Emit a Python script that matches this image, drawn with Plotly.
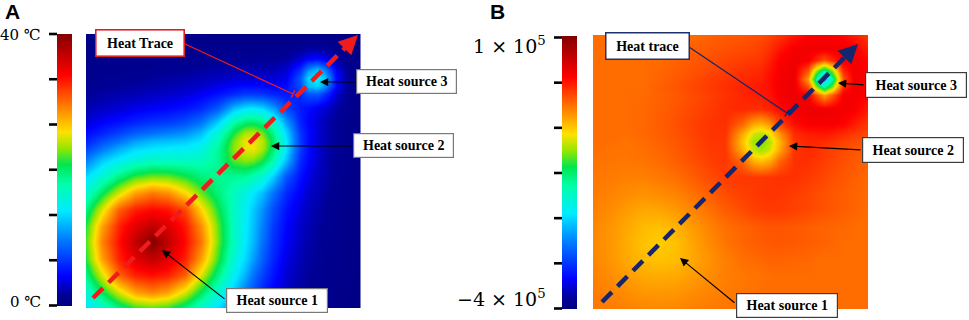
import plotly.graph_objects as go

W, H = 969, 320

# grid nodes (same for x and y, 0..100 across each square map)
grid = [0, 6, 12, 18, 24, 30, 36, 42, 48, 54, 58, 61, 64, 68, 73, 78, 81, 84, 87, 91, 95, 100]

# Panel A: temperature (deg C), rows from bottom (y=0) to top (y=100)
temp_A = [
    [13.4,16.2,19.2,21.3,22.0,21.3,19.2,16.2,13.4,9.8,7.3,5.8,4.7,3.3,2.3,1.6,1.3,1.0,0.9,0.6,0.5,0.4],
    [16.2,20.5,24.7,28.0,29.2,28.0,24.7,20.5,16.2,12.7,9.6,7.7,5.9,4.3,2.8,1.9,1.5,1.2,1.0,0.8,0.6,0.45],
    [19.2,24.7,30.5,32.8,33.5,32.8,30.5,24.7,19.2,14.5,11.8,9.3,7.2,5.1,3.2,2.2,1.7,1.4,1.1,0.8,0.6,0.5],
    [21.3,28.0,32.8,35.4,36.9,35.4,32.8,28.0,21.5,15.9,13.3,11.1,8.5,5.9,3.7,2.4,1.9,1.5,1.1,0.9,0.7,0.5],
    [22.0,29.2,33.5,36.9,40.0,37.0,33.7,29.6,22.5,16.8,14.0,12.1,9.3,6.5,4.2,2.8,2.1,1.7,1.3,1.0,0.7,0.5],
    [21.3,28.0,32.8,35.4,37.0,35.7,33.2,28.7,22.3,16.8,14.3,12.4,9.9,6.9,4.5,3.0,2.4,1.9,1.5,1.1,0.8,0.5],
    [19.2,24.7,30.5,32.8,33.7,33.2,31.3,26.0,21.0,16.8,14.5,12.8,10.6,7.7,5.1,3.4,2.7,2.1,1.6,1.1,0.8,0.55],
    [16.2,20.5,24.7,28.1,29.6,28.7,26.0,22.5,19.4,17.1,15.3,13.9,12.3,9.3,6.1,4.1,3.0,2.5,1.9,1.2,1.0,0.6],
    [13.4,16.2,19.2,21.5,22.5,22.3,21.0,19.4,18.7,18.7,18.6,17.6,16.2,13.0,8.2,5.1,3.8,2.7,2.2,1.4,1.0,0.6],
    [9.8,12.7,14.5,15.9,16.8,16.8,16.8,17.1,18.7,22.3,23.1,22.8,21.2,18.0,12.3,6.2,4.5,3.2,2.2,1.5,1.0,0.6],
    [7.3,9.6,11.8,13.3,14.0,14.3,14.5,15.3,18.6,23.1,25.1,25.3,23.7,19.8,13.7,6.9,4.8,3.3,2.4,1.6,1.0,0.6],
    [5.8,7.7,9.3,11.1,12.1,12.4,12.8,13.9,17.6,22.8,25.3,25.5,24.1,20.1,14.0,6.9,4.7,3.2,2.4,1.5,1.0,0.55],
    [4.7,5.9,7.2,8.5,9.3,9.9,10.6,12.3,16.2,21.2,23.7,24.1,22.7,19.1,13.3,6.7,4.7,3.4,2.4,1.6,1.0,0.55],
    [3.3,4.3,5.1,5.9,6.5,6.9,7.7,9.3,13.0,18.0,19.8,20.1,19.1,16.5,11.1,5.9,4.4,3.3,2.4,1.6,1.0,0.55],
    [2.3,2.8,3.2,3.8,4.2,4.5,5.1,6.1,8.2,12.3,13.7,14.0,13.3,11.1,7.4,5.4,4.8,3.9,3.2,1.9,1.2,0.55],
    [1.6,1.9,2.2,2.4,2.8,3.0,3.4,4.1,5.1,6.2,6.9,6.9,6.7,5.9,5.4,6.2,7.8,8.2,6.4,3.2,1.5,0.6],
    [1.3,1.5,1.7,1.9,2.1,2.4,2.7,3.0,3.8,4.5,4.8,4.7,4.7,4.4,4.8,7.8,12.0,13.3,10.5,4.5,1.8,0.6],
    [1.0,1.2,1.4,1.5,1.7,1.9,2.1,2.5,2.7,3.2,3.3,3.2,3.4,3.3,3.9,8.2,13.3,14.6,12.6,4.9,1.7,0.55],
    [0.9,1.0,1.05,1.1,1.3,1.5,1.6,1.9,2.2,2.2,2.4,2.4,2.4,2.4,3.2,6.4,10.5,12.6,9.9,4.0,1.5,0.5],
    [0.6,0.8,0.8,0.9,0.95,1.05,1.1,1.2,1.4,1.5,1.6,1.5,1.6,1.6,1.9,3.2,4.5,4.9,4.0,2.1,0.95,0.4],
    [0.5,0.6,0.6,0.7,0.7,0.75,0.8,0.95,1.0,1.0,1.0,0.95,0.95,1.0,1.2,1.5,1.8,1.7,1.5,0.95,0.55,0.3],
    [0.4,0.45,0.5,0.5,0.5,0.5,0.55,0.6,0.6,0.6,0.6,0.55,0.55,0.5,0.55,0.6,0.6,0.55,0.5,0.4,0.3,0.15],
]

# Panel B: field in units of 1e5, rows from bottom to top
field_B = [
    [-0.30,-0.32,-0.34,-0.37,-0.38,-0.37,-0.34,-0.32,-0.30,-0.28,-0.26,-0.25,-0.25,-0.25,-0.25,-0.25,-0.25,-0.25,-0.25,-0.25,-0.25,-0.25],
    [-0.32,-0.36,-0.40,-0.44,-0.45,-0.44,-0.40,-0.36,-0.32,-0.29,-0.28,-0.26,-0.25,-0.25,-0.25,-0.25,-0.25,-0.25,-0.25,-0.25,-0.25,-0.25],
    [-0.34,-0.40,-0.47,-0.53,-0.55,-0.53,-0.47,-0.40,-0.34,-0.30,-0.29,-0.28,-0.26,-0.25,-0.25,-0.25,-0.25,-0.25,-0.25,-0.25,-0.25,-0.25],
    [-0.37,-0.44,-0.53,-0.62,-0.65,-0.62,-0.53,-0.43,-0.34,-0.27,-0.24,-0.23,-0.21,-0.21,-0.22,-0.23,-0.25,-0.25,-0.25,-0.25,-0.25,-0.25],
    [-0.38,-0.45,-0.55,-0.65,-0.70,-0.65,-0.52,-0.39,-0.29,-0.22,-0.19,-0.17,-0.16,-0.15,-0.16,-0.18,-0.19,-0.21,-0.22,-0.25,-0.25,-0.25],
    [-0.37,-0.44,-0.53,-0.62,-0.65,-0.58,-0.47,-0.36,-0.27,-0.21,-0.18,-0.16,-0.14,-0.14,-0.16,-0.18,-0.20,-0.21,-0.22,-0.23,-0.25,-0.26],
    [-0.34,-0.40,-0.47,-0.53,-0.52,-0.46,-0.37,-0.27,-0.18,-0.10,-0.05,-0.03,-0.02,-0.02,-0.05,-0.08,-0.11,-0.13,-0.15,-0.18,-0.21,-0.25],
    [-0.32,-0.36,-0.40,-0.43,-0.40,-0.36,-0.28,-0.19,-0.10,-0.04,-0.02,0.00,0.01,0.00,-0.03,-0.07,-0.10,-0.12,-0.15,-0.18,-0.21,-0.24],
    [-0.30,-0.32,-0.34,-0.34,-0.31,-0.26,-0.18,-0.10,-0.03,0.00,0.00,0.00,0.01,0.03,0.03,-0.01,-0.04,-0.07,-0.11,-0.15,-0.19,-0.23],
    [-0.28,-0.29,-0.30,-0.28,-0.25,-0.19,-0.12,-0.04,0.00,-0.22,-0.55,-0.64,-0.54,-0.20,0.03,0.04,0.00,-0.03,-0.07,-0.11,-0.16,-0.21],
    [-0.26,-0.28,-0.29,-0.26,-0.22,-0.16,-0.09,-0.02,0.00,-0.55,-0.96,-1.07,-0.93,-0.49,0.01,0.06,0.04,0.00,-0.04,-0.09,-0.14,-0.19],
    [-0.25,-0.26,-0.28,-0.25,-0.20,-0.15,-0.08,0.00,0.00,-0.64,-1.07,-1.20,-1.02,-0.57,0.00,0.08,0.07,0.04,0.01,-0.05,-0.10,-0.16],
    [-0.25,-0.25,-0.26,-0.23,-0.19,-0.13,-0.06,0.01,0.02,-0.54,-0.93,-1.02,-0.88,-0.42,0.05,0.12,0.13,0.14,0.12,0.05,-0.02,-0.09],
    [-0.25,-0.25,-0.25,-0.23,-0.18,-0.12,-0.05,0.01,0.04,-0.20,-0.48,-0.56,-0.41,-0.03,0.20,0.30,0.31,0.31,0.30,0.26,0.14,0.00],
    [-0.25,-0.25,-0.25,-0.23,-0.19,-0.14,-0.08,-0.02,0.04,0.06,0.04,0.04,0.09,0.21,0.32,0.35,0.35,0.34,0.34,0.33,0.29,0.13],
    [-0.25,-0.25,-0.25,-0.24,-0.20,-0.16,-0.10,-0.04,0.02,0.08,0.11,0.13,0.17,0.31,0.35,0.30,-0.10,-0.48,-0.17,0.30,0.32,0.24],
    [-0.25,-0.25,-0.25,-0.25,-0.19,-0.14,-0.08,-0.02,0.04,0.09,0.13,0.15,0.19,0.32,0.36,-0.10,-1.05,-1.69,-1.11,0.07,0.33,0.27],
    [-0.25,-0.25,-0.25,-0.25,-0.21,-0.16,-0.10,-0.04,0.01,0.06,0.09,0.11,0.19,0.32,0.35,-0.48,-1.69,-2.64,-1.74,-0.14,0.33,0.29],
    [-0.25,-0.25,-0.25,-0.25,-0.22,-0.18,-0.13,-0.08,-0.03,0.02,0.05,0.08,0.17,0.31,0.35,-0.17,-1.11,-1.74,-1.16,0.06,0.33,0.26],
    [-0.25,-0.25,-0.25,-0.25,-0.25,-0.20,-0.16,-0.12,-0.07,-0.03,-0.01,0.01,0.10,0.28,0.34,0.31,0.07,-0.14,0.06,0.33,0.32,0.22],
    [-0.25,-0.25,-0.25,-0.25,-0.25,-0.23,-0.19,-0.16,-0.12,-0.09,-0.07,-0.03,0.03,0.17,0.31,0.33,0.33,0.33,0.33,0.32,0.29,0.13],
    [-0.25,-0.25,-0.25,-0.25,-0.25,-0.25,-0.24,-0.20,-0.17,-0.15,-0.12,-0.10,-0.05,0.02,0.15,0.25,0.27,0.29,0.26,0.22,0.13,-0.01],
]

rangeA = [0, 40]
rangeB = [-4, 1]
cbA_labels = ["0 ℃", "40 ℃"]
cbB_labels = ["−4 × 10<sup>5</sup>", "1 × 10<sup>5</sup>"]
n_cb_ticks = 7

colorscale = [
    [0.00, "rgb(0,0,128)"],
    [0.04, "rgb(0,0,150)"],
    [0.11, "rgb(0,0,255)"],
    [0.25, "rgb(0,130,255)"],
    [0.35, "rgb(0,235,255)"],
    [0.45, "rgb(0,255,170)"],
    [0.52, "rgb(0,230,80)"],
    [0.58, "rgb(150,230,0)"],
    [0.64, "rgb(255,225,0)"],
    [0.72, "rgb(255,140,0)"],
    [0.85, "rgb(255,0,0)"],
    [1.00, "rgb(130,0,0)"],
]


def fx(p):
    return p / W


def fy(p):
    return 1 - p / H


def cbar(x0, top, bottom):
    return dict(x=fx(x0), xanchor="left", xpad=0, ypad=0,
                y=fy(bottom), yanchor="bottom", len=(bottom - top) / H,
                lenmode="fraction", thickness=15, thicknessmode="pixels",
                outlinewidth=0, ticks="", showticklabels=False)


fig = go.Figure()
fig.add_trace(go.Heatmap(x=grid, y=grid, z=temp_A, zmin=rangeA[0], zmax=rangeA[1],
                         zsmooth="best", colorscale=colorscale, hoverinfo="skip",
                         xaxis="x", yaxis="y", colorbar=cbar(57, 34, 306)))
fig.add_trace(go.Heatmap(x=grid, y=grid, z=field_B, zmin=rangeB[0], zmax=rangeB[1],
                         zsmooth="best", colorscale=colorscale, hoverinfo="skip",
                         xaxis="x2", yaxis="y2", colorbar=cbar(562, 36, 309)))

ax_common = dict(range=[0, 100], visible=False, fixedrange=True, showgrid=False, zeroline=False)
fig.update_layout(
    width=W, height=H, margin=dict(l=0, r=0, t=0, b=0),
    paper_bgcolor="white", plot_bgcolor="white", showlegend=False,
    xaxis=dict(domain=[fx(86), fx(360.5)], anchor="y", **ax_common),
    yaxis=dict(domain=[fy(308), fy(34)], anchor="x", **ax_common),
    xaxis2=dict(domain=[fx(593), fx(868)], anchor="y2", **ax_common),
    yaxis2=dict(domain=[fy(309), fy(35)], anchor="x2", **ax_common),
)

shapes = []
annotations = []

# colorbar tick marks (left side of bars) and end labels
for (x_bar, top, bottom, labels, lab_y, size) in [
    (57, 34, 305.5, cbA_labels, (302, 35), 15),
    (562, 37.5, 308.5, cbB_labels, (298, 45), 19),
]:
    for k in range(n_cb_ticks):
        yk = top + k * (bottom - top) / (n_cb_ticks - 1)
        shapes.append(dict(type="line", xref="paper", yref="paper",
                           x0=fx(x_bar - 8), x1=fx(x_bar), y0=fy(yk), y1=fy(yk),
                           line=dict(color="black", width=2.6)))
    for lab, yy in zip(labels, lab_y):
        annotations.append(dict(text=lab, xref="paper", yref="paper", x=fx(x_bar - 14),
                                y=fy(yy), xanchor="right", yanchor="middle", showarrow=False,
                                font=dict(family="DejaVu Serif", size=size, color="black")))

# panel letters
for letter, xl in [("A", 3), ("B", 488)]:
    annotations.append(dict(text="<b>%s</b>" % letter, xref="paper", yref="paper", x=fx(xl),
                            y=fy(11), xanchor="left", yanchor="middle", showarrow=False,
                            font=dict(family="Liberation Sans", size=21, color="black")))

# dashed heat-trace arrows
red = "rgb(240,28,28)"
navy = "rgb(22,38,110)"
for (x0, y0, x1, y1, hx, hy, col) in [
    (93, 298, 349, 44, 358, 35, red),
    (602, 302, 849, 53, 858, 44, navy),
]:
    shapes.append(dict(type="line", xref="paper", yref="paper", x0=fx(x0), y0=fy(y0),
                       x1=fx(x1), y1=fy(y1), line=dict(color=col, width=4.5, dash="14px,8px")))
    annotations.append(dict(text="", xref="paper", yref="paper", x=fx(hx), y=fy(hy),
                            axref="pixel", ayref="pixel", ax=-13, ay=13, showarrow=True,
                            arrowhead=2, arrowsize=0.85, arrowwidth=4.5, arrowcolor=col,
                            standoff=0))

# connector lines from the "Heat trace" boxes
for (x0, y0, x1, y1, col, bx0, by0, bx1, by1) in [
    (185, 44, 293, 94, red, 291.3, 97.6, 294.7, 90.4),
    (689, 47, 787, 113, navy, 784.8, 116.3, 789.2, 109.7),
]:
    shapes.append(dict(type="line", xref="paper", yref="paper", x0=fx(x0), y0=fy(y0),
                       x1=fx(x1), y1=fy(y1), line=dict(color=col, width=1.3)))
    shapes.append(dict(type="line", xref="paper", yref="paper", x0=fx(bx0), y0=fy(by0),
                       x1=fx(bx1), y1=fy(by1), line=dict(color=col, width=1.5)))

# black pointer arrows (tail -> head)
for (tx, ty, hx, hy) in [
    (356, 82, 320, 82), (353, 146, 271, 146), (226, 300, 162, 250),
    (865, 85, 838, 83), (862, 150, 789, 146), (736, 304, 680, 258),
]:
    annotations.append(dict(text="", xref="paper", yref="paper", x=fx(hx), y=fy(hy),
                            axref="pixel", ayref="pixel", ax=tx - hx, ay=ty - hy,
                            showarrow=True, arrowhead=2, arrowsize=1.5, arrowwidth=1.1,
                            arrowcolor="black", standoff=0))

# label boxes: text, centre x, centre y, width, height, border colour, border width
boxes = [
    ("Heat Trace", 139.5, 42.5, 89, 27, "rgb(228,30,40)", 1.6),
    ("Heat source 3", 406.5, 81.5, 101, 25, "rgb(120,120,120)", 1.2),
    ("Heat source 2", 403.5, 145.5, 101, 25, "rgb(120,120,120)", 1.2),
    ("Heat source 1", 277, 300.5, 102, 25, "rgb(120,120,120)", 1.2),
    ("Heat trace", 647, 46.5, 84, 27, "rgb(30,50,110)", 1.5),
    ("Heat source 3", 916, 85, 102, 26, "rgb(60,60,60)", 1.2),
    ("Heat source 2", 913, 150, 102, 26, "rgb(60,60,60)", 1.2),
    ("Heat source 1", 787, 305.5, 102, 25, "rgb(60,60,60)", 1.2),
]
for (txt, cx, cy, bw, bh, bc, lw) in boxes:
    annotations.append(dict(text="<b>%s</b>" % txt, xref="paper", yref="paper",
                            x=fx(cx), y=fy(cy), xanchor="center", yanchor="middle",
                            showarrow=False, bgcolor="white", bordercolor=bc,
                            borderwidth=lw, borderpad=1, width=bw - 4, height=bh - 4,
                            font=dict(family="Liberation Serif", size=14, color="black")))

fig.update_layout(shapes=shapes, annotations=annotations)
fig.write_html("out.html", config={"displayModeBar": False},
               post_script="document.body.style.margin='0px';")
